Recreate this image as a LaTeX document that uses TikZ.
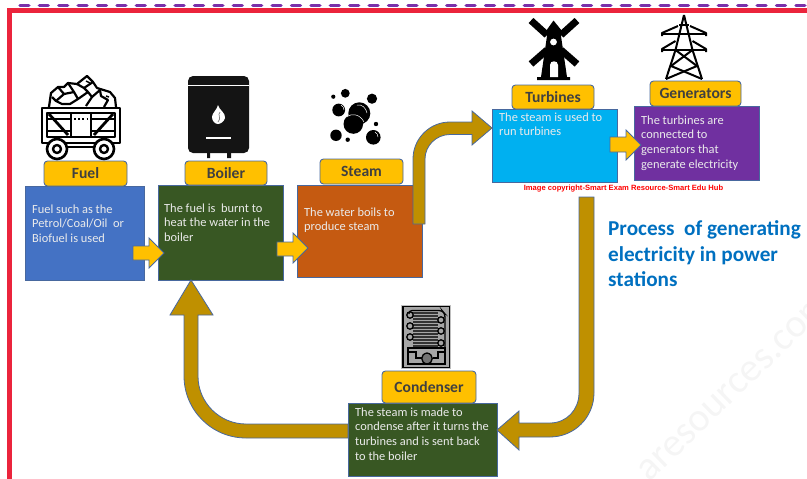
\documentclass[tikz,border=0pt]{standalone}
\usepackage{fontspec}
\setmainfont{Carlito}
\newfontfamily\stampfont{Liberation Sans}
\tikzset{
	boxLine/.style={draw=borderColor, line width=0.9pt, minimum height=0pt, inner sep=0pt, anchor=north west},
	tagBox/.style={draw=borderColor, line width=0.9pt, fill=tagColor, rounded corners=3.5pt, inner sep=0pt,
		text=tagText, font=\fontsize{15.6}{17}\selectfont\bfseries},
	bodyText/.style={text=white!92!black, align=left, anchor=north west, inner sep=0pt,
		font=\fontsize{12.4}{14.6}\selectfont},
	goldArrow/.style={draw=borderColor, line width=0.8pt, fill=arrowGold},
	yellowArrow/.style={draw=borderColor, line width=0.8pt, fill=tagColor},
	iconLine/.style={draw=black, line width=2.2pt, line join=round},
	coolLine/.style={draw=black, line width=1.3pt}
}
\begin{document}
\begin{tikzpicture}[x=1pt,y=-1pt]
% Colors
\definecolor{borderColor}{RGB}{72,104,158}
\definecolor{tagColor}{RGB}{255,192,0}
\definecolor{tagText}{RGB}{64,64,64}
\definecolor{arrowGold}{RGB}{191,144,0}
\definecolor{frameRed}{RGB}{235,36,60}
\definecolor{framePurple}{RGB}{122,48,170}
\definecolor{fuelColor}{RGB}{68,114,196}
\definecolor{leafColor}{RGB}{56,87,35}
\definecolor{steamColor}{RGB}{197,90,17}
\definecolor{turbineColor}{RGB}{0,176,240}
\definecolor{generatorColor}{RGB}{112,48,160}
\definecolor{titleColor}{RGB}{0,112,192}
\useasboundingbox (0,0) rectangle (807,479);
% Faint stamp behind everything
\begin{scope}
	\clip (0,0) rectangle (807,479);
	\node[text=black!4, rotate=44, font=\fontsize{40}{40}\selectfont] (stampText) at (735,387) {aresources.com};
\end{scope}
% Frame
\draw[framePurple, line width=3.5pt, line cap=round, dash pattern=on 8.8pt off 10.6pt] (20,5.3) -- (807,5.3);
\draw[frameRed, line width=5pt] (9.5,479) -- (9.5,10.5) -- (807,10.5);
% Boxes
\node[boxLine, fill=fuelColor, minimum width=119pt, minimum height=94pt] (fuelBox) at (25,186) {};
\node[boxLine, fill=leafColor, minimum width=125pt, minimum height=95pt] (boilerBox) at (158,185) {};
\node[boxLine, fill=steamColor, minimum width=125pt, minimum height=92pt] (steamBox) at (297,185) {};
\node[boxLine, fill=turbineColor, minimum width=125pt, minimum height=73pt] (turbinesBox) at (492,109) {};
\node[boxLine, fill=generatorColor, minimum width=125pt, minimum height=74pt] (generatorsBox) at (634,106) {};
\node[boxLine, fill=leafColor, minimum width=149pt, minimum height=73pt] (condenserBox) at (348,403) {};
% Tags
\node[tagBox, minimum width=83pt, minimum height=25pt] (fuelTag) at (85.5,173.5) {Fuel};
\node[tagBox, minimum width=82pt, minimum height=24pt] (boilerTag) at (226,173) {Boiler};
\node[tagBox, minimum width=83pt, minimum height=25pt] (steamTag) at (361.5,171.5) {Steam};
\node[tagBox, minimum width=82pt, minimum height=24pt] (turbinesTag) at (553,97) {Turbines};
\node[tagBox, minimum width=91pt, minimum height=25pt] (generatorsTag) at (695.5,93.5) {Generators};
\node[tagBox, minimum width=94pt, minimum height=32pt] (condenserTag) at (429,387) {Condenser};
% Box texts
\node[bodyText] (fuelText) at (32,204.5) {Fuel such as the\\Petrol/Coal/Oil~~or\\Biofuel is used};
\node[bodyText] (boilerText) at (164,203.5) {The fuel is~~burnt to\\heat the water in the\\boiler};
\node[bodyText] (steamText) at (304,207.5) {The water boils to\\produce steam};
\node[bodyText] (turbinesText) at (499,112.5) {The steam is used to\\run turbines};
\node[bodyText] (generatorsText) at (641,115.5) {The turbines are\\connected to\\generators that\\generate electricity};
\node[bodyText] (condenserText) at (355,407.5) {The steam is made to\\condense after it turns the\\turbines and is sent back\\to the boiler};
% Small arrows
\draw[yellowArrow] (133,246) -- (149,246) -- (149,238) -- (164,253) -- (149,268) -- (149,260) -- (133,260) -- cycle;
\draw[yellowArrow] (277,242) -- (293,242) -- (293,233) -- (308,248) -- (293,263) -- (293,256) -- (277,256) -- cycle;
\draw[yellowArrow] (610,137) -- (626,137) -- (626,130) -- (641,145) -- (626,160) -- (626,152) -- (610,152) -- cycle;
% Big arrows
\draw[goldArrow] (413,224) -- (413,159) .. controls (413,138.6) and (429.6,122) .. (450,122) -- (472,122) -- (472,111)
	-- (492,128) -- (472,145) -- (472,134.5) -- (450,134.5) .. controls (436.5,134.5) and (425,145.5) .. (425,159) -- (425,224) -- cycle;
\draw[goldArrow] (579,197) -- (594,197) -- (594,393) .. controls (594,417.3) and (574.3,437) .. (550,437) -- (519,437) -- (519,450)
	-- (497,430) -- (519,411) -- (519,423) -- (550,423) .. controls (566.6,423) and (579,409.6) .. (579,393) -- cycle;
\draw[goldArrow] (348,438) -- (246,438) .. controls (211.8,438) and (184,410.2) .. (184,376) -- (184,315) -- (170,315)
	-- (191,280) -- (213,315) -- (198,315) -- (198,376) .. controls (198,402.5) and (219.5,424) .. (246,424) -- (348,424) -- cycle;
% Title and stamp
\node[text=titleColor, align=left, anchor=north west, inner sep=0pt, font=\fontsize{21.2}{25.4}\selectfont\bfseries] (titleText) at (608,220.5)
	{Process~~of generating\\electricity in power\\stations};
\node[text=red, inner sep=0pt, font=\stampfont\fontsize{7.6}{9}\selectfont\bfseries] (copyrightText) at (623.5,188.5)
	{Image copyright-Smart Exam Resource-Smart Edu Hub};
% Fuel icon
\begin{scope}[iconLine]
	\draw[fill=white] (49,107) -- (51,93) -- (58,87) -- (64,87) -- (68,83) -- (77,84) -- (87,76) -- (93,82) -- (97,88) -- (110,92) -- (115,98) -- (116,107);
	\draw (58,87) -- (64,94) -- (56,101) -- (52,97);
	\draw (64,94) -- (74,92) -- (78,99) -- (70,104) -- (62,104) -- (56,101);
	\draw (68,83) -- (74,92);
	\draw (78,99) -- (88,92) -- (92,97) -- (86,106);
	\draw (77,84) -- (84,88) -- (88,92);
	\draw (84,88) -- (93,82);
	\draw (92,97) -- (100,90) -- (101,96) -- (108,100) -- (104,107);
	\draw[line width=1.5pt] (86,81) -- (90,83) (106,96) -- (109,97);
	\draw[fill=white, line width=2.4pt] (42,108) rectangle (120,143);
	\draw[fill=white] (47,113) rectangle (115,137);
	\draw (47,119) -- (71,119) (91,119) -- (115,119) (47,131) -- (71,131) (91,131) -- (115,131);
	\draw[line width=2.8pt] (49,114) -- (68,135) (113,114) -- (94,135);
	\draw[fill=white, line width=1.6pt] (71,113) rectangle (91,137);
	\draw[line width=1.6pt, dash pattern=on 2pt off 2.2pt] (74,119) -- (88,119);
	\draw (64,147) -- (97,147);
	\draw[fill=white, line width=2.6pt] (57,149) circle (10);
	\draw[fill=white, line width=2.4pt] (57,149) circle (4);
	\draw[fill=white, line width=2.6pt] (104,149) circle (10);
	\draw[fill=white, line width=2.4pt] (104,149) circle (4);
\end{scope}
% Boiler icon
\fill[black!92] (207,152) rectangle (210,158) (227,152) rectangle (231,158);
\fill[black!92, rounded corners=5pt] (188,76) rectangle (249,153);
\draw[white, line width=1.3pt] (188,85.5) -- (249,85.5);
\fill[white] (218,105) .. controls (219,110) and (226,113) .. (225,118) .. controls (224,122) and (220,124) .. (218,124)
	.. controls (215,124) and (212,121) .. (212,117) .. controls (212,113) and (217,110) .. (218,105) -- cycle;
\draw[black!50, line width=0.7pt] (220,112) .. controls (217,115) and (222,118) .. (218,122);
\draw[white, line width=2pt] (206,137.5) -- (231,137.5);
% Steam icon
\foreach \cx/\cy/\cr in {345.3/93.3/4.4, 333.3/96.7/2.1, 372/98.7/5.1, 338.7/110/6.4, 359.3/113.3/11, 353.3/124/9.8,
	376/124/2.2, 336/135.3/5.7, 347.7/139.7/2.2, 373.3/137.3/7.3}
	\fill[black] (\cx,\cy) circle (\cr);
\draw[white, line width=0.5pt] (357,105) .. controls (362,104) and (366,108) .. (367,113);
\draw[white, line width=0.5pt] (346,117) .. controls (352,113) and (360,114) .. (364,122);
\draw[white, line width=0.5pt] (341,105) .. controls (343,106) and (344,108) .. (344,110);
\draw[white, line width=0.5pt] (375,132) .. controls (377,133) and (378,135) .. (378,137);
% Windmill icon
\draw[black, line width=7pt] (531,20.5) -- (547,35) (577,20.5) -- (561,35) (531,64) -- (547,50) (577,64) -- (561,50);
\fill[black] (553.5,20.5) -- (562,31) -- (561,36) -- (567,77) -- (570,77) -- (570,80) -- (537,80) -- (537,77) -- (541,77) -- (547,36) -- (546,31) -- cycle;
\fill[white] (553.5,42) circle (3.4);
\fill[white] (550,77) -- (550,65) .. controls (550,60) and (558,60) .. (558,65) -- (558,77) -- cycle;
% Pylon icon
\begin{scope}[iconLine, line width=2pt]
	\draw (684,15) -- (675.5,50) -- (666,79);
	\draw (684,15) -- (692.5,50) -- (702,79);
	\draw (679,25) -- (689,25);
	\draw (662,36) -- (662,33) -- (678,26);
	\draw (706,36) -- (706,33) -- (690,26);
	\draw (662,33.5) -- (706,33.5);
	\draw (662,52) -- (662,49) -- (675.5,41);
	\draw (706,52) -- (706,49) -- (692.5,41);
	\draw (662,49.5) -- (706,49.5);
	\draw (675.5,50) -- (697,66) -- (666,79);
	\draw (692.5,50) -- (671,66) -- (702,79);
\end{scope}
% Condenser icon
\draw[draw=black!25, line width=2.6pt] (402.5,306) rectangle (450,368);
\draw[draw=black, fill=black!35, line width=1.6pt] (403,306.5) rectangle (449.5,367.5);
\draw[coolLine, rounded corners=3pt] (409,314) -- (409,310.5) -- (442,310.5) -- (445,314) -- (445,348);
\foreach \cy in {313,316,319,322,325,328,331,334,337,340,343,346}
	\draw[black!80, line width=1.7pt] (413,\cy) -- (438,\cy);
\foreach \cx/\cy in {410/315, 410/326, 410/337, 441/320, 441/331, 441/343}
	\draw[coolLine] (\cx,\cy) circle (3.2);
\draw[coolLine] (408,348) -- (445,348) -- (445,364) -- (408,364) -- cycle;
\draw[coolLine] (409,352) -- (416,352) -- (416,358) -- (422,358) (445,352) -- (438,352) -- (438,358) -- (433,358);
\draw[coolLine, fill=black!55] (427,353) .. controls (420,354) and (420,363) .. (427,364) .. controls (434,363) and (434,354) .. (427,353) -- cycle;
\end{tikzpicture}
\end{document}
